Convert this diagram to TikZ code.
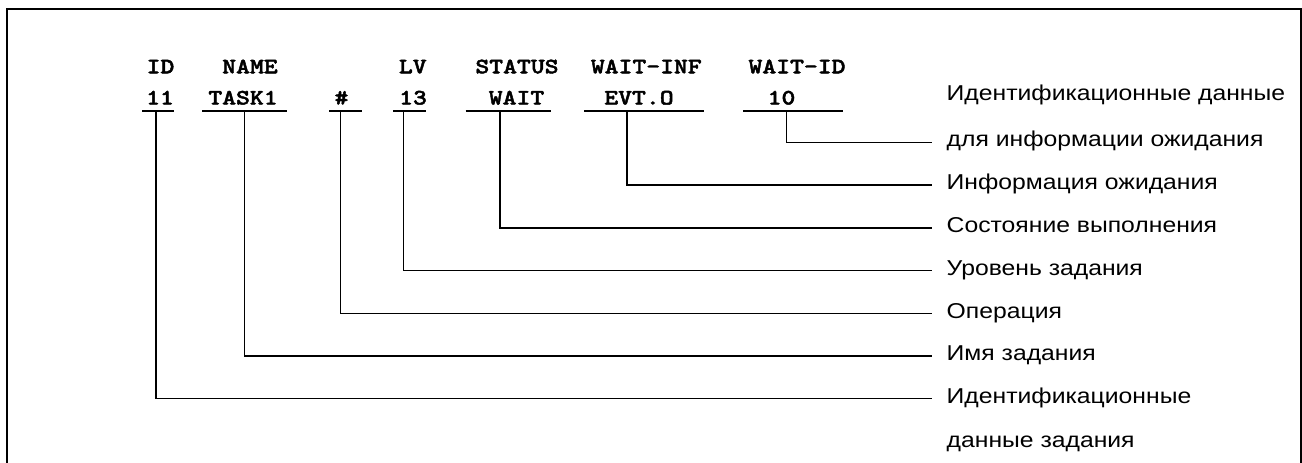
\documentclass[tikz,border=0pt]{standalone}
\usepackage{fontspec}
\newfontfamily\labfont{Liberation Sans}[FakeStretch=1.15]
\newfontfamily\hdrfont{lmmonolt10-bold.otf}[FakeStretch=1.2,FakeBold=2]
\begin{document}
\begin{tikzpicture}[x=1pt,y=-1pt,
  hdr/.style={inner sep=0pt,anchor=base,font=\hdrfont\fontsize{22}{22}\selectfont},
  lab/.style={inner sep=0pt,anchor=base west,font=\labfont\fontsize{21.5}{21.5}\selectfont},
  conn/.style={line width=1.1pt},
  uline/.style={line width=1.1pt},
  frame/.style={line width=2.3pt}]
\useasboundingbox (0,0) rectangle (1302,463);
% frame
\draw[frame] (7,470) -- (7,9.2) -- (1302,9.2);
\draw[line width=1.2pt] (1301,9) -- (1301,470);
% header row
\node[hdr] (hID) at (160.5,73.3) {ID};
\node[hdr] (hNAME) at (250,73.3) {NAME};
\node[hdr] (hLV) at (412.8,73.3) {LV};
\node[hdr] (hSTATUS) at (517,73.3) {STATUS};
\node[hdr] (hWINF) at (646.3,73.3) {WAIT-INF};
\node[hdr] (hWID) at (797,73.3) {WAIT-ID};
% value row
\node[hdr] (v1) at (160,104.5) {11};
\node[hdr] (v2) at (243,104.5) {TASK1};
\node[hdr] (v3) at (341.5,104.5) {\#};
\node[hdr] (v4) at (413,104.5) {13};
\node[hdr] (v5) at (516.5,104.5) {WAIT};
\node[hdr] (v6) at (639,104.5) {EVT.O};
\node[hdr] (v7) at (781.5,104.5) {10};
% underline ends
\coordinate (a1) at (142,111); \coordinate (b1) at (174,111);
\coordinate (a2) at (202,111); \coordinate (b2) at (287,111);
\coordinate (a3) at (329,111); \coordinate (b3) at (362,111);
\coordinate (a4) at (393,111); \coordinate (b4) at (426,111);
\coordinate (a5) at (465.7,111); \coordinate (b5) at (550.7,111);
\coordinate (a6) at (584,111); \coordinate (b6) at (704,111);
\coordinate (a7) at (743.3,111); \coordinate (b7) at (842.7,111);
\foreach \i in {1,...,7} {\draw[uline] (a\i) -- (b\i);}
% connector starts
\coordinate (u1) at (156,111);
\coordinate (u2) at (244.3,111);
\coordinate (u3) at (340.3,111);
\coordinate (u4) at (403.7,111);
\coordinate (u5) at (500,111);
\coordinate (u6) at (627,111);
\coordinate (u7) at (786.7,111);
% connector ends
\coordinate (e7) at (931.7,142.5);
\coordinate (e6) at (931.7,185);
\coordinate (e5) at (931.7,228);
\coordinate (e4) at (931.7,270.7);
\coordinate (e3) at (931.7,313.3);
\coordinate (e2) at (931.7,356);
\coordinate (e1) at (931.7,398.5);
\foreach \i in {1,...,7} {\draw[conn] (u\i) |- (e\i);}
% labels
\node[lab] (l7a) at (946.5,100.7) {Идентификационные данные};
\node[lab] (l7b) at (946.5,146.5) {для информации ожидания};
\node[lab] (l6) at (946.5,189.5) {Информация ожидания};
\node[lab] (l5) at (946.5,232.5) {Состояние выполнения};
\node[lab] (l4) at (946.5,275) {Уровень задания};
\node[lab] (l3) at (946.5,318.3) {Операция};
\node[lab] (l2) at (946.5,360.8) {Имя задания};
\node[lab] (l1a) at (946.5,403.3) {Идентификационные};
\node[lab] (l1b) at (946.5,447.5) {данные задания};
\end{tikzpicture}
\end{document}
